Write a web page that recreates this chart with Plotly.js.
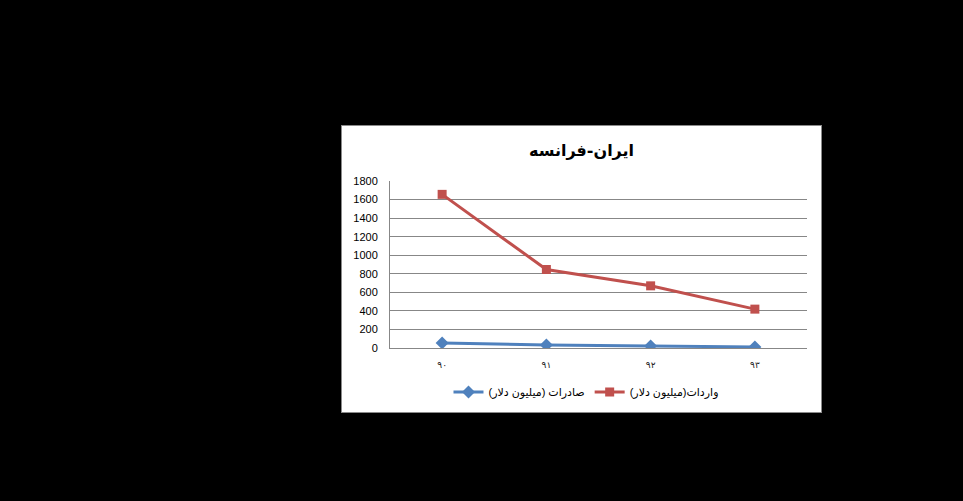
<!DOCTYPE html>
<html>
<head>
<meta charset="utf-8">
<script src="https://cdn.plot.ly/plotly-3.0.1.min.js"></script>
<style>
  html, body { margin: 0; padding: 0; background: #000; width: 963px; height: 501px; overflow: hidden; }
  #box { position: absolute; left: 341px; top: 125px; width: 481px; height: 288px;
         box-sizing: border-box; border: 1px solid #8a8a8a; background: #fff; }
  #chart { width: 479px; height: 286px; }
</style>
</head>
<body>
<div id="box"><div id="chart"></div></div>
<script>
const years = ["۹۰", "۹۱", "۹۲", "۹۳"];
const exportsVals = [55, 32, 22, 11];
const importsVals = [1656, 846, 670, 419];
const exportsName = "صادرات (میلیون دلار)";
const importsName = "واردات(میلیون دلار)";

const blue = "#4f81bd",
  red = "#c0504d",
  grid = "#878787";

Plotly.newPlot(
  "chart",
  [
    {
      x: years,
      y: exportsVals,
      name: exportsName,
      type: "scatter",
      mode: "lines+markers",
      line: { color: blue, width: 3 },
      marker: { color: blue, symbol: "diamond", size: 10 },
    },
    {
      x: years,
      y: importsVals,
      name: importsName,
      type: "scatter",
      mode: "lines+markers",
      line: { color: red, width: 3 },
      marker: { color: red, symbol: "square", size: 9 },
    },
  ],
  {
    width: 479,
    height: 286,
    margin: { t: 55, b: 64, l: 48, r: 14 },
    paper_bgcolor: "#fff",
    plot_bgcolor: "#fff",
    font: { family: "Liberation Sans, DejaVu Sans, sans-serif", size: 11, color: "#000" },
    title: {
      text: "<b>ایران-فرانسه</b>",
      font: { family: "DejaVu Sans, sans-serif", size: 16, color: "#000" },
      x: 0.5,
      xanchor: "center",
      yref: "container",
      y: 1 - 24 / 286,
      yanchor: "middle",
    },
    xaxis: {
      type: "category",
      range: [-0.5, 3.5],
      showgrid: false,
      showline: true,
      linecolor: grid,
      linewidth: 1,
      ticks: "",
      tickfont: { size: 9, color: "#222" },
      ticklabelstandoff: 8,
      automargin: false,
      fixedrange: true,
    },
    yaxis: {
      range: [0, 1800],
      dtick: 200,
      gridcolor: grid,
      gridwidth: 1,
      showline: true,
      linecolor: grid,
      zeroline: false,
      ticks: "",
      tickfont: { size: 11, color: "#000" },
      ticklabelstandoff: 9,
      automargin: false,
      fixedrange: true,
    },
    legend: {
      orientation: "h",
      x: 0.47,
      xanchor: "center",
      xref: "paper",
      yref: "container",
      y: (286 - 266) / 286,
      yanchor: "middle",
      font: { size: 11, color: "#000" },
    },
    showlegend: true,
  },
  { displayModeBar: false, staticPlot: true },
);
</script>
</body>
</html>
